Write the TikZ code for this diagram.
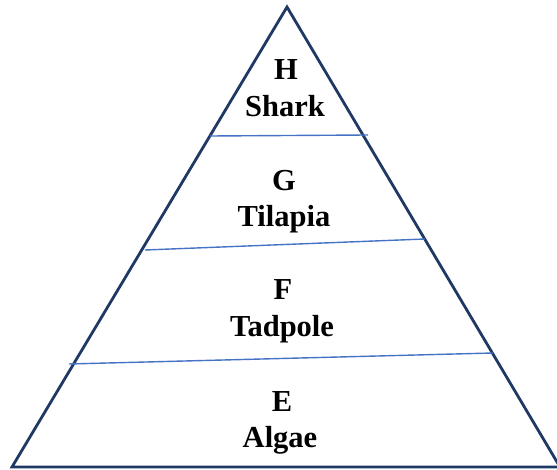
\documentclass[tikz,border=0pt]{standalone}
\usepackage{fontspec}
\setmainfont{Liberation Serif}
\definecolor{navy}{HTML}{1F3864}
\definecolor{wordblue}{HTML}{4472C4}
\begin{document}
\begin{tikzpicture}[x=1pt,y=-1pt,
  lbl/.style={font=\fontsize{30.5}{32}\selectfont\bfseries, inner sep=0pt, anchor=base},
  edge/.style={draw=navy, line width=2.8pt, line join=miter},
  divider/.style={draw=wordblue, line width=1.4pt}]
\useasboundingbox (0,0) rectangle (557,470);
\coordinate (apex) at (287,7);
\coordinate (bl) at (12,467);
\coordinate (br) at (560,467);
\draw[edge] (apex) -- (br) -- (bl) -- cycle;
\coordinate (d1l) at (210,136); \coordinate (d1r) at (368,135);
\coordinate (d2l) at (145,250); \coordinate (d2r) at (425,239);
\coordinate (d3l) at (69,364);  \coordinate (d3r) at (493,353);
\draw[divider] (d1l) -- (d1r);
\draw[divider] (d2l) -- (d2r);
\draw[divider] (d3l) -- (d3r);
\node[lbl] (h) at (286,80) {H};
\node[lbl] (shark) at (285,117) {Shark};
\node[lbl] (g) at (284,191) {G};
\node[lbl] (tilapia) at (284,227) {Tilapia};
\node[lbl] (f) at (283,300) {F};
\node[lbl] (tadpole) at (282,337) {Tadpole};
\node[lbl] (e) at (282,411) {E};
\node[lbl] (algae) at (280,447) {Algae};
\end{tikzpicture}
\end{document}
